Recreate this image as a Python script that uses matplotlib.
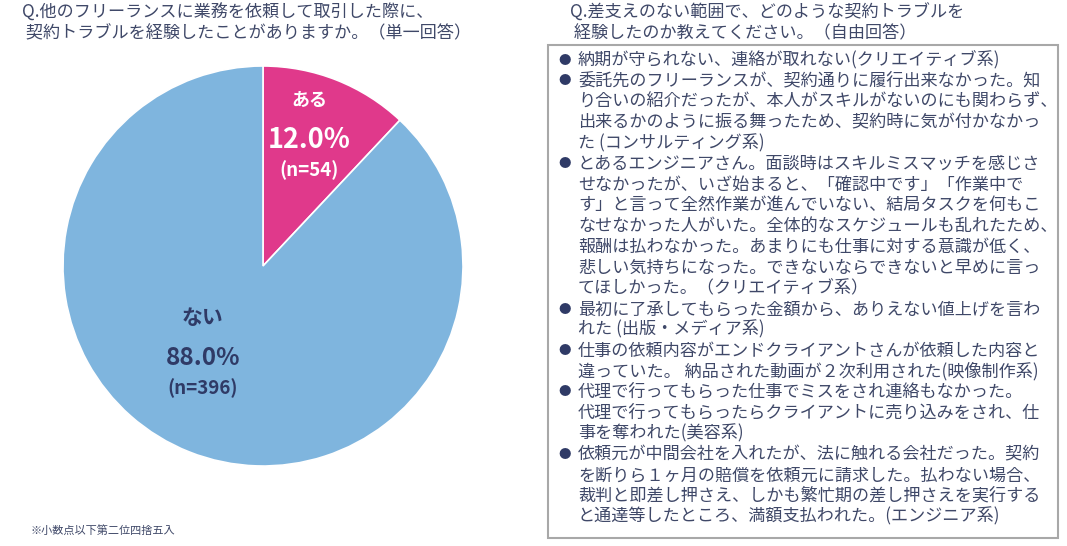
import matplotlib.pyplot as plt
from matplotlib.patches import Rectangle

plt.rcParams['font.family'] = ['Noto Sans CJK JP', 'DejaVu Sans']

labels = ['ある', 'ない']
shares = [12.0, 88.0]
counts = [54, 396]
colors = ['#E0398B', '#7FB5DE']

title_left = ['Q.他のフリーランスに業務を依頼して取引した際に、',
              ' 契約トラブルを経験したことがありますか。（単一回答）']
title_right = ['Q.差支えのない範囲で、どのような契約トラブルを',
               ' 経験したのか教えてください。（自由回答）']
note = '※小数点以下第二位四捨五入'

answers = [
    ['納期が守られない、連絡が取れない(クリエイティブ系)'],
    ['委託先のフリーランスが、契約通りに履行出来なかった。知',
     'り合いの紹介だったが、本人がスキルがないのにも関わらず、',
     '出来るかのように振る舞ったため、契約時に気が付かなかっ',
     'た (コンサルティング系)'],
    ['とあるエンジニアさん。面談時はスキルミスマッチを感じさ',
     'せなかったが、いざ始まると、「確認中です」「作業中で',
     'す」と言って全然作業が進んでいない、結局タスクを何もこ',
     'なせなかった人がいた。全体的なスケジュールも乱れたため、',
     '報酬は払わなかった。あまりにも仕事に対する意識が低く、',
     '悲しい気持ちになった。できないならできないと早めに言っ',
     'てほしかった。（クリエイティブ系）'],
    ['最初に了承してもらった金額から、ありえない値上げを言わ',
     'れた (出版・メディア系)'],
    ['仕事の依頼内容がエンドクライアントさんが依頼した内容と',
     '違っていた。 納品された動画が２次利用された(映像制作系)'],
    ['代理で行ってもらった仕事でミスをされ連絡もなかった。',
     '代理で行ってもらったらクライアントに売り込みをされ、仕',
     '事を奪われた(美容系)'],
    ['依頼元が中間会社を入れたが、法に触れる会社だった。契約',
     'を断りら１ヶ月の賠償を依頼元に請求した。払わない場合、',
     '裁判と即差し押さえ、しかも繁忙期の差し押さえを実行する',
     'と通達等したところ、満額支払われた。(エンジニア系)'],
]

navy = '#2F3A66'
grey_text = '#3F4868'

W, H = 1067, 546
fig = plt.figure(figsize=(W / 100, H / 100), dpi=100)

# pie
ax = fig.add_axes([63 / W, (H - 466) / H, 400 / W, 400 / H])
ax.pie(shares, colors=colors, startangle=90, counterclock=False,
       wedgeprops=dict(edgecolor='white', linewidth=1.2))
ax.set_aspect('equal')
ax.set_xlim(-1, 1)
ax.set_ylim(-1, 1)
ax.axis('off')

# labels inside slices (axes data coords)
ax.text(0.23, 0.83, labels[0], color='white', fontsize=13, fontweight='bold',
        ha='center', va='center')
ax.text(0.23, 0.63, f'{shares[0]:.1f}%', color='white', fontsize=19.5, fontweight='bold',
        ha='center', va='center')
ax.text(0.23, 0.48, f'(n={counts[0]})', color='white', fontsize=13.5, fontweight='bold',
        ha='center', va='center')
ax.text(-0.30, -0.26, labels[1], color=navy, fontsize=15, fontweight='bold',
        ha='center', va='center')
ax.text(-0.30, -0.46, f'{shares[1]:.1f}%', color=navy, fontsize=17.5, fontweight='bold',
        ha='center', va='center')
ax.text(-0.30, -0.61, f'(n={counts[1]})', color=navy, fontsize=13.5, fontweight='bold',
        ha='center', va='center')

# titles
for i, line in enumerate(title_left):
    fig.text(22 / W, 1 - (13 + 20.5 * i) / H, line, fontsize=12.3, color=grey_text,
             ha='left', va='center')
for i, line in enumerate(title_right):
    fig.text(570 / W, 1 - (13 + 20.5 * i) / H, line, fontsize=12.3, color=grey_text,
             ha='left', va='center')

fig.text(30 / W, 1 - 530 / H, note, fontsize=8, color=grey_text, ha='left', va='center')

# answer box
fig.add_artist(Rectangle((548 / W, 1 - 538 / H), 510 / W, 493 / H,
                         transform=fig.transFigure, fill=False,
                         edgecolor='#A8A8A8', linewidth=1.5))

y = 60
step = 20.75
for item in answers:
    fig.text(565 / W, 1 - y / H, '●', fontsize=9, color=navy, ha='center', va='center')
    for line in item:
        fig.text(578 / W, 1 - y / H, line, fontsize=12.3, color=grey_text,
                 ha='left', va='center')
        y += step

fig.savefig('out.png', dpi=100, facecolor='white')
